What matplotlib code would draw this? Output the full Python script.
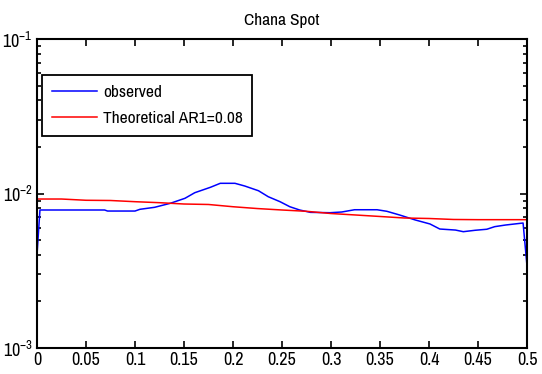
import numpy as np
import matplotlib
matplotlib.use("Agg")
from matplotlib import pyplot as plt
from matplotlib.ticker import LogLocator, NullFormatter

plt.rcParams.update({
    "font.family": ["Archivo Narrow", "Liberation Sans", "DejaVu Sans"],
    "font.size": 12.5,
    "mathtext.fontset": "custom",
    "mathtext.rm": "Archivo Narrow",
    "mathtext.default": "rm",
})

# observed spectrum (frequency, power)
obs_freq = [0.0, 0.003, 0.069, 0.072, 0.1, 0.105, 0.12, 0.136, 0.151, 0.161,
            0.177, 0.187, 0.202, 0.212, 0.226, 0.236, 0.248, 0.258, 0.268,
            0.279, 0.299, 0.311, 0.324, 0.347, 0.357, 0.370, 0.386, 0.401,
            0.411, 0.427, 0.435, 0.447, 0.459, 0.467, 0.478, 0.493, 0.496,
            0.5]
obs_power = [0.00400, 0.00782, 0.00782, 0.00770, 0.00770, 0.00790, 0.00814,
             0.00864, 0.00931, 0.01012, 0.01097, 0.01164, 0.01164, 0.01118,
             0.01042, 0.00953, 0.00885, 0.00821, 0.00782, 0.00755, 0.00751,
             0.00759, 0.00785, 0.00785, 0.00767, 0.00726, 0.00674, 0.00635,
             0.00589, 0.00580, 0.00566, 0.00578, 0.00587, 0.00610, 0.00625,
             0.00641, 0.00644, 0.00340]

# theoretical AR(1) spectrum
ar_freq = [0.0, 0.025, 0.05, 0.075, 0.1, 0.125, 0.15, 0.175, 0.2, 0.225,
           0.25, 0.275, 0.3, 0.325, 0.35, 0.375, 0.4, 0.425, 0.45, 0.475,
           0.5]
ar_power = [0.00921, 0.00921, 0.00904, 0.00901, 0.00885, 0.00872, 0.00855,
            0.00849, 0.00821, 0.00799, 0.00782, 0.00767, 0.00742, 0.00726,
            0.00710, 0.00694, 0.00689, 0.00679, 0.00677, 0.00677, 0.00677]

fig = plt.figure(figsize=(5.42, 3.74), dpi=100)
ax = fig.add_axes([37 / 542, 26 / 374, 490 / 542, 309 / 374])

ax.plot(obs_freq, obs_power, color="blue", linewidth=1.1, label="observed")
ax.plot(ar_freq, ar_power, color="red", linewidth=1.1,
        label="Theoretical AR1=0.08")

ax.set_yscale("log")
ax.set_xlim(0, 0.5)
ax.set_ylim(1e-3, 1e-1)
ax.set_xticks(np.arange(0, 0.501, 0.05))
ax.set_xticklabels(["0", "0.05", "0.1", "0.15", "0.2", "0.25", "0.3",
                    "0.35", "0.4", "0.45", "0.5"])
ax.yaxis.set_major_locator(LogLocator(base=10, numticks=5))
ax.yaxis.set_minor_locator(LogLocator(base=10, subs=np.arange(2, 10),
                                      numticks=20))
ax.yaxis.set_minor_formatter(NullFormatter())

ax.tick_params(which="both", direction="in", top=True, right=True,
               width=1.2, labelsize=13)
ax.tick_params(which="major", length=5, pad=3)
ax.tick_params(which="minor", length=3)
for spine in ax.spines.values():
    spine.set_linewidth(1.5)

ax.set_title("Chana Spot", fontsize=12.5, pad=10)

leg = ax.legend(loc="upper left", bbox_to_anchor=(0.0102, 0.8835),
                borderaxespad=0, fancybox=False, framealpha=1,
                edgecolor="black", handlelength=2.6, handletextpad=0.35,
                labelspacing=0.65, borderpad=0.55, fontsize=12.5)
leg.get_frame().set_linewidth(1.3)

plt.savefig("out.png", dpi=100)
